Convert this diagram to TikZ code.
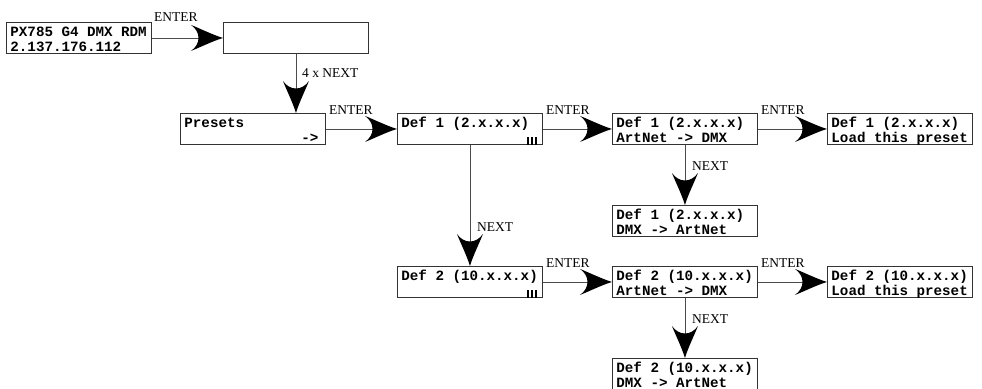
\documentclass[tikz,border=0pt]{standalone}
\usepackage{fontspec}
\setmainfont{Liberation Serif}
\setmonofont{Liberation Mono}
\usetikzlibrary{arrows.meta,calc}
\pgfdeclarearrow{
  name=FatTip,
  setup code={
    \pgfarrowssettipend{0pt}
    \pgfarrowssetlineend{-22pt}
    \pgfarrowssetbackend{-32pt}
    \pgfarrowssetvisualbackend{-24pt}
    \pgfarrowshullpoint{0pt}{0pt}
    \pgfarrowshullpoint{-32pt}{13pt}
    \pgfarrowshullpoint{-32pt}{-13pt}
  },
  drawing code={
    \pgfsetfillcolor{black}
    \pgfpathmoveto{\pgfpoint{0pt}{0pt}}
    \pgfpathcurveto{\pgfpoint{-10pt}{3pt}}{\pgfpoint{-22pt}{9pt}}{\pgfpoint{-32pt}{13pt}}
    \pgfpathcurveto{\pgfpoint{-22pt}{6pt}}{\pgfpoint{-22pt}{-6pt}}{\pgfpoint{-32pt}{-13pt}}
    \pgfpathcurveto{\pgfpoint{-22pt}{-9pt}}{\pgfpoint{-10pt}{-3pt}}{\pgfpoint{0pt}{0pt}}
    \pgfpathclose
    \pgfusepathqfill
  }
}
\newcommand\lcd[2]{\parbox[c][30.5pt][t]{137pt}{\rule{0pt}{14pt}#1\\#2}}
\tikzset{
  lcdbox/.style={draw=black!80, line width=0.9pt, anchor=north west, inner xsep=4pt, inner ysep=0pt,
    font=\fontsize{14.2}{14.6}\selectfont\ttfamily\bfseries, minimum width=145pt, minimum height=31pt},
  conn/.style={draw=black!70, line width=0.9pt, -FatTip},
  lbl/.style={font=\fontsize{13.5}{14}\selectfont, inner sep=0pt, anchor=base west},
  bars/.style={draw=black, line width=1.2pt}
}
\begin{document}
\begin{tikzpicture}[x=1pt, y=-1pt]
\useasboundingbox (0,0) rectangle (982,388);
% boxes
\node[lcdbox] (b1) at (6,22) {\lcd{PX785 G4 DMX RDM}{2.137.176.112}};
\node[lcdbox] (b2) at (223,22) {\lcd{}{}};
\node[lcdbox] (pre) at (180,113) {\lcd{Presets}{\mbox{}\hfill->\hspace*{3pt}}};
\node[lcdbox] (d1) at (397,113) {\lcd{Def 1 (2.x.x.x)}{}};
\node[lcdbox] (d1a) at (612,113) {\lcd{Def 1 (2.x.x.x)}{ArtNet -> DMX}};
\node[lcdbox] (d1l) at (827,113) {\lcd{Def 1 (2.x.x.x)}{Load this preset}};
\node[lcdbox] (d1d) at (612,205) {\lcd{Def 1 (2.x.x.x)}{DMX -> ArtNet}};
\node[lcdbox] (d2) at (397,266) {\lcd{Def 2 (10.x.x.x)}{}};
\node[lcdbox] (d2a) at (612,266) {\lcd{Def 2 (10.x.x.x)}{ArtNet -> DMX}};
\node[lcdbox] (d2l) at (827,266) {\lcd{Def 2 (10.x.x.x)}{Load this preset}};
\node[lcdbox] (d2d) at (612,358) {\lcd{Def 2 (10.x.x.x)}{DMX -> ArtNet}};
% bars
\foreach \b in {d1,d2}{
  \foreach \dx in {-15,-11,-7}{
    \draw[bars] ($(\b.south east)+(\dx,0)$) -- ++(0,-7.5);
  }
}
% connectors
\draw[conn] (b1.east) -- (b2.west);
\draw[conn] (b2.south) -- (b2.south |- pre.north);
\draw[conn] (pre.east) -- (d1.west);
\draw[conn] (d1.east) -- (d1a.west);
\draw[conn] (d1a.east) -- (d1l.west);
\draw[conn] (d1a.south) -- (d1d.north);
\draw[conn] (d1.south) -- (d2.north);
\draw[conn] (d2.east) -- (d2a.west);
\draw[conn] (d2a.east) -- (d2l.west);
\draw[conn] (d2a.south) -- (d2d.north);
% labels
\node[lbl] (e1) at ($(b1.east)+(2,-16)$) {ENTER};
\node[lbl] (e2) at ($(pre.east)+(3,-14.5)$) {ENTER};
\node[lbl] (e3) at ($(d1.east)+(3,-14.5)$) {ENTER};
\node[lbl] (e4) at ($(d1a.east)+(3,-14.5)$) {ENTER};
\node[lbl] (e5) at ($(d2.east)+(3,-14.5)$) {ENTER};
\node[lbl] (e6) at ($(d2a.east)+(3,-14.5)$) {ENTER};
\node[lbl] (n0) at ($(b2.south |- pre.north)+(6,-36)$) {4 x NEXT};
\node[lbl] (n1) at ($(d1a.south |- d1d.north)+(7,-35)$) {NEXT};
\node[lbl] (n2) at ($(d1.south |- d2.north)+(7,-35)$) {NEXT};
\node[lbl] (n3) at ($(d2a.south |- d2d.north)+(7,-35)$) {NEXT};
\end{tikzpicture}
\end{document}
